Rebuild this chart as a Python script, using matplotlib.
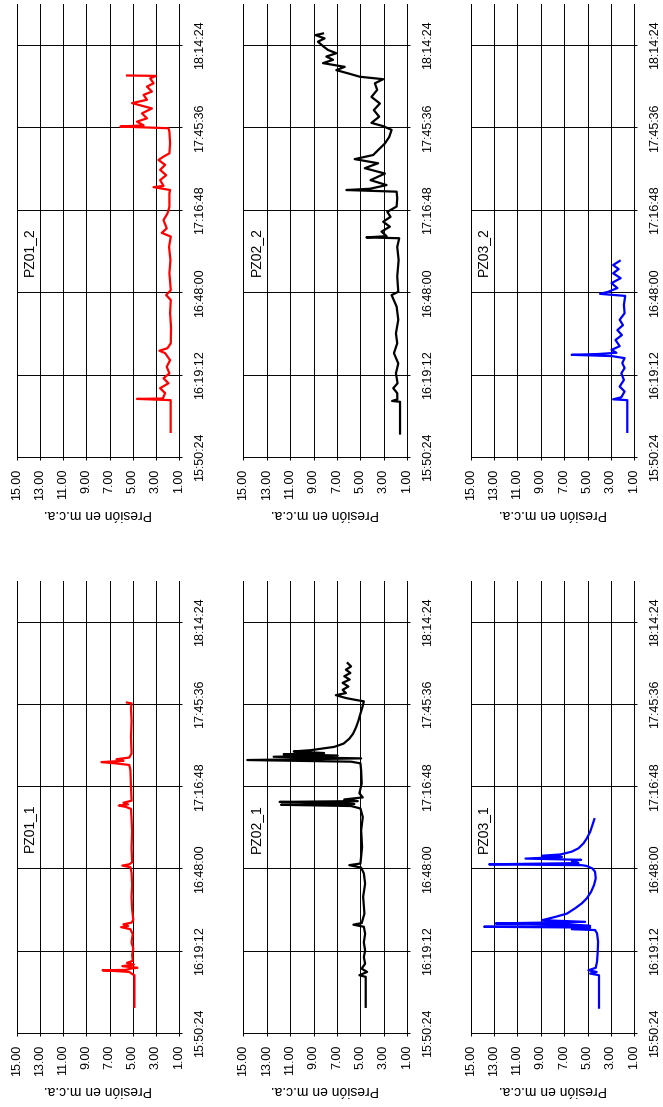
import matplotlib
matplotlib.use('Agg')
import matplotlib.pyplot as plt
from matplotlib.ticker import FixedLocator, FuncFormatter

plt.rcParams['font.family'] = ['Liberation Sans', 'DejaVu Sans']

# Time is stored as a fraction of the day (spreadsheet style), pressure in m.c.a.
pz01_1_t = [0.6663, 0.6740, 0.6742, 0.6748, 0.6752, 0.6753, 0.6756, 0.6758, 0.6762,
            0.6766, 0.6770, 0.6775, 0.6790, 0.6805, 0.6820, 0.6840, 0.6852, 0.6857,
            0.6860, 0.6864, 0.6868, 0.6875, 0.6900, 0.6930, 0.6960, 0.6990, 0.7003,
            0.7007, 0.7010, 0.7015, 0.7050, 0.7090, 0.7120, 0.7145, 0.7150, 0.7153,
            0.7156, 0.7160, 0.7165, 0.7200, 0.7240, 0.7252, 0.7256, 0.7259, 0.7262,
            0.7266, 0.7270, 0.7280, 0.7320, 0.7360, 0.7390, 0.7402, 0.7404]
pz01_1_p = [4.85, 4.85, 5.00, 5.30, 7.60, 5.60, 5.20, 4.60, 5.90,
            4.90, 5.50, 5.00, 5.05, 4.95, 5.10, 5.00, 5.20, 6.00,
            5.40, 5.80, 5.10, 4.95, 5.05, 5.10, 5.05, 5.10, 5.20,
            5.90, 5.30, 5.05, 5.10, 5.05, 5.10, 5.15, 5.60, 6.20,
            5.40, 5.80, 5.10, 5.15, 5.20, 5.30, 6.50, 7.70, 5.80,
            6.40, 5.30, 5.10, 5.15, 5.10, 5.15, 5.10, 5.50]

pz01_2_t = [0.6661, 0.6738, 0.6741, 0.6742, 0.6755, 0.6767, 0.6779, 0.6791, 0.6803,
            0.6819, 0.6835, 0.6852, 0.6858, 0.6864, 0.6876, 0.6916, 0.6949, 0.6981,
            0.6993, 0.7005, 0.7046, 0.7078, 0.7110, 0.7135, 0.7144, 0.7155, 0.7175,
            0.7191, 0.7207, 0.7240, 0.7248, 0.7255, 0.7258, 0.7272, 0.7284, 0.7297,
            0.7309, 0.7321, 0.7329, 0.7337, 0.7361, 0.7390, 0.7398, 0.7402, 0.7405,
            0.7414, 0.7422, 0.7434, 0.7446, 0.7459, 0.7467, 0.7479, 0.7487, 0.7499,
            0.7507, 0.7519, 0.7525, 0.7526]
pz01_2_p = [1.72, 1.72, 4.63, 2.40, 2.20, 2.63, 1.91, 2.34, 1.83,
            2.06, 1.77, 2.20, 2.69, 2.00, 1.71, 1.69, 1.77, 1.71,
            2.11, 1.71, 1.83, 1.74, 1.86, 1.71, 2.49, 2.06, 2.34,
            2.00, 1.83, 1.83, 1.77, 3.20, 2.34, 2.63, 2.11, 2.63,
            2.20, 2.77, 2.34, 1.83, 1.77, 1.83, 1.91, 6.06, 4.06,
            4.63, 3.77, 4.20, 3.34, 5.06, 3.77, 4.06, 3.34, 3.77,
            3.20, 3.49, 3.00, 5.49]

pz02_1_t = [0.6663, 0.6736, 0.6740, 0.6748, 0.6756, 0.6768, 0.6784, 0.6800, 0.6820,
            0.6841, 0.6858, 0.6863, 0.6867, 0.6890, 0.6931, 0.6963, 0.6988, 0.7002,
            0.7008, 0.7012, 0.7052, 0.7093, 0.7125, 0.7146, 0.7152, 0.7155, 0.7157,
            0.7160, 0.7162, 0.7164, 0.7168, 0.7173, 0.7183, 0.7207, 0.7239, 0.7256,
            0.7260, 0.7264, 0.7268, 0.7272, 0.7275, 0.7278, 0.7281, 0.7285, 0.7288,
            0.7292, 0.7296, 0.7304, 0.7316, 0.7328, 0.7344, 0.7360, 0.7377, 0.7393,
            0.7407, 0.7411, 0.7415, 0.7422, 0.7427, 0.7435, 0.7443, 0.7452, 0.7460,
            0.7468, 0.7476, 0.7484, 0.7492, 0.7500]
pz02_1_p = [4.55, 4.55, 5.09, 4.43, 4.90, 4.60, 4.71, 4.60, 4.71,
            4.60, 4.71, 5.60, 4.89, 4.66, 4.77, 4.60, 4.71, 4.94,
            5.95, 5.00, 4.86, 4.94, 4.80, 5.00, 5.80, 11.78, 5.52,
            6.67, 11.90, 5.23, 6.38, 4.80, 5.09, 4.89, 4.94, 5.00,
            5.80, 14.66, 4.94, 12.41, 6.95, 11.55, 8.10, 10.69, 9.25,
            8.25, 7.24, 6.44, 5.95, 5.63, 5.37, 5.17, 5.00, 4.83,
            4.71, 5.52, 6.24, 7.10, 6.24, 6.52, 6.03, 6.52, 5.92,
            6.38, 5.86, 6.24, 5.80, 6.09]

pz02_2_t = [0.6657, 0.6734, 0.6736, 0.6740, 0.6755, 0.6767, 0.6779, 0.6803, 0.6827,
            0.6852, 0.6876, 0.6900, 0.6933, 0.6965, 0.6993, 0.7001, 0.7038, 0.7078,
            0.7110, 0.7131, 0.7133, 0.7136, 0.7147, 0.7159, 0.7171, 0.7183, 0.7195,
            0.7208, 0.7228, 0.7244, 0.7248, 0.7251, 0.7260, 0.7272, 0.7288, 0.7301,
            0.7313, 0.7323, 0.7333, 0.7345, 0.7361, 0.7377, 0.7394, 0.7403, 0.7411,
            0.7426, 0.7442, 0.7458, 0.7474, 0.7491, 0.7507, 0.7517, 0.7523, 0.7530,
            0.7539, 0.7547, 0.7556, 0.7564, 0.7572, 0.7580, 0.7588, 0.7596, 0.7608,
            0.7616, 0.7624, 0.7628]
pz02_2_p = [1.62, 1.62, 2.30, 1.85, 1.86, 2.20, 1.83, 1.97, 1.77,
            2.14, 1.86, 1.97, 1.77, 1.91, 2.34, 1.77, 1.86, 1.74,
            1.86, 1.69, 4.49, 2.77, 3.20, 2.49, 3.06, 2.43, 2.71,
            1.91, 1.86, 1.91, 6.20, 4.20, 2.77, 4.14, 2.91, 4.63,
            3.49, 5.49, 3.91, 3.49, 2.91, 2.54, 2.34, 3.06, 4.06,
            3.40, 3.86, 3.34, 4.06, 3.57, 3.77, 3.06, 5.06, 5.91,
            7.06, 6.34, 8.20, 7.34, 7.91, 7.06, 7.77, 8.14, 8.63,
            8.06, 8.83, 8.20]

pz03_1_t = [0.6661, 0.6740, 0.6744, 0.6748, 0.6752, 0.6758, 0.6773, 0.6797, 0.6822,
            0.6842, 0.6850, 0.6852, 0.6856, 0.6858, 0.6860, 0.6864, 0.6866, 0.6870,
            0.6874, 0.6882, 0.6890, 0.6903, 0.6915, 0.6927, 0.6943, 0.6960, 0.6976,
            0.6992, 0.7000, 0.7006, 0.7008, 0.7010, 0.7013, 0.7018, 0.7021, 0.7024,
            0.7028, 0.7031, 0.7034, 0.7041, 0.7049, 0.7061, 0.7073, 0.7089, 0.7105,
            0.7120]
pz03_1_p = [4.02, 4.02, 4.78, 4.22, 4.93, 4.30, 4.19, 4.13, 4.10,
            4.19, 4.36, 6.34, 4.78, 13.85, 4.78, 6.63, 12.86, 5.21,
            8.89, 7.76, 6.77, 6.06, 5.49, 5.07, 4.70, 4.44, 4.30,
            4.36, 4.59, 5.07, 5.50, 13.42, 5.78, 6.34, 5.55, 10.31,
            7.19, 8.89, 7.33, 6.34, 5.78, 5.35, 5.07, 4.78, 4.59,
            4.42]

pz03_2_t = [0.6661, 0.6738, 0.6740, 0.6745, 0.6759, 0.6771, 0.6787, 0.6803, 0.6816,
            0.6828, 0.6840, 0.6845, 0.6848, 0.6850, 0.6853, 0.6860, 0.6869, 0.6884,
            0.6896, 0.6908, 0.6920, 0.6933, 0.6949, 0.6969, 0.6991, 0.6996, 0.7001,
            0.7010, 0.7022, 0.7034, 0.7046, 0.7056, 0.7066, 0.7076]
pz03_2_p = [1.60, 1.60, 2.81, 2.11, 1.83, 2.25, 1.89, 2.11, 1.83,
            2.03, 1.83, 2.95, 6.36, 4.07, 2.53, 2.95, 2.25, 2.61,
            2.06, 2.45, 1.97, 2.25, 1.83, 1.89, 1.78, 3.93, 3.23,
            2.45, 2.95, 2.17, 2.81, 2.34, 2.81, 2.25]

names = ['PZ01_1', 'PZ01_2', 'PZ02_1', 'PZ02_2', 'PZ03_1', 'PZ03_2']
series = [(pz01_1_t, pz01_1_p), (pz01_2_t, pz01_2_p),
          (pz02_1_t, pz02_1_p), (pz02_2_t, pz02_2_p),
          (pz03_1_t, pz03_1_p), (pz03_2_t, pz03_2_p)]
colors = ['red', 'red', 'black', 'black', 'blue', 'blue']

time_ticks = [0.66, 0.68, 0.70, 0.72, 0.74, 0.76]
pres_ticks = [15, 13, 11, 9, 7, 5, 3, 1]


def hms(v, pos):
    s = int(round(v * 86400))
    return f'{s // 3600}:{s % 3600 // 60:02d}:{s % 60:02d}'


def main():
    W, H = 663, 1107
    fig = plt.figure(figsize=(W / 100, H / 100), dpi=100)

    # page is a landscape sheet turned 90 degrees: pressure runs across, time runs up
    col_x = [(17, 162), (243.3, 164), (470.7, 163.6)]
    row_y = [(581, 1032.7), (3.8, 457)]  # (top, bottom) in pixels: first row = *_1

    for i, name in enumerate(names):
        col = i // 2
        row = i % 2
        x0, w = col_x[col]
        top, bot = row_y[row]
        ax = fig.add_axes([x0 / W, 1 - bot / H, w / W, (bot - top) / H])

        t, p = series[i]
        ax.plot(p, t, color=colors[i], lw=1.6, zorder=3)

        ax.set_xlim(15, 1)
        ax.set_ylim(0.66, 0.77)
        ax.xaxis.set_major_locator(FixedLocator(pres_ticks))
        ax.xaxis.set_major_formatter(FuncFormatter(lambda v, pos: f'{v:.2f}'))
        ax.yaxis.set_major_locator(FixedLocator(time_ticks))
        ax.yaxis.set_major_formatter(FuncFormatter(hms))
        ax.yaxis.tick_right()

        ax.grid(True, color='black', lw=0.7)
        ax.tick_params(axis='x', direction='out', length=2.5, width=0.7,
                       labelsize=9, labelrotation=90, pad=6)
        ax.tick_params(axis='y', direction='out', length=2.5, width=0.7,
                       labelsize=9, labelrotation=90, pad=8)
        for lab in ax.get_yticklabels():
            lab.set_verticalalignment('center')
        for side in ['left', 'right', 'bottom']:
            ax.spines[side].set_linewidth(0.7)
        ax.spines['top'].set_visible(False)

        ax.set_xlabel('Presión en m.c.a.', fontsize=10, rotation=180, labelpad=5)
        ax.text(13.95, 0.7098, name, rotation=90, fontsize=10,
                ha='center', va='center')

    fig.savefig('out.png', dpi=100)


if __name__ == '__main__':
    main()
